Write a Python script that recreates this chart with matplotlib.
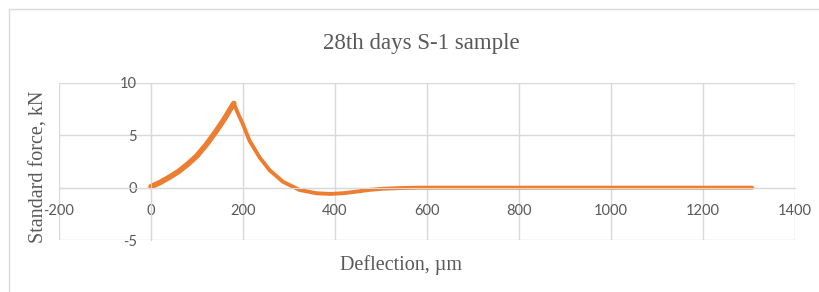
import matplotlib.pyplot as plt
from matplotlib.patches import Rectangle

plt.rcParams["axes.unicode_minus"] = False

# deflection (um) and force (kN)
load_x = [0, 20, 40, 60, 80, 100, 120, 140, 160, 175, 180]
load_y = [0.1, 0.5, 1.0, 1.55, 2.25, 3.05, 4.1, 5.3, 6.6, 7.7, 8.05]
unload_x = [180, 190, 200, 214, 236, 258, 287, 323, 359, 390, 420, 450, 473, 505,
            540, 580, 800, 1000, 1200, 1307]
unload_y = [8.05, 7.0, 6.04, 4.5, 2.9, 1.66, 0.56, -0.22, -0.53, -0.6, -0.52, -0.36,
            -0.22, -0.1, -0.04, 0.0, 0.0, 0.0, 0.0, 0.0]

x_ticks = [-200, 0, 200, 400, 600, 800, 1000, 1200, 1400]
y_ticks = [-5, 0, 5, 10]

orange = "#ED7D31"
grid_c = "#d9d9d9"
serif = ["Liberation Serif", "DejaVu Serif"]

fig = plt.figure(figsize=(8.19, 2.92), dpi=100)
ax = fig.add_axes([59 / 819, 52 / 292, 736 / 819, 157 / 292])

ax.plot(load_x, load_y, color=orange, linewidth=4.0, solid_capstyle="round",
        solid_joinstyle="round")
ax.plot(unload_x, unload_y, color=orange, linewidth=2.8, solid_capstyle="round",
        solid_joinstyle="round")

ax.set_xlim(-200, 1400)
ax.set_ylim(-5, 10)
ax.set_xticks(x_ticks)
ax.set_yticks(y_ticks)
ax.grid(True, color=grid_c, linewidth=1)
ax.set_axisbelow(True)
for gl in ax.get_xgridlines() + ax.get_ygridlines():
    gl.set_clip_on(False)

ax.spines["left"].set_position(("data", 0))
ax.spines["bottom"].set_position(("data", 0))
ax.spines["left"].set_color(grid_c)
ax.spines["bottom"].set_color(grid_c)
ax.spines["top"].set_visible(False)
ax.spines["right"].set_visible(False)
ax.tick_params(axis="both", length=0, labelcolor="#595959", labelsize=10.5)
ax.tick_params(axis="x", pad=12)
ax.tick_params(axis="y", pad=10)
for lab in ax.get_xticklabels() + ax.get_yticklabels():
    lab.set_family(["Lato", "DejaVu Sans"])

fig.text(421 / 819, 1 - 44 / 292, "28th days S-1 sample", ha="center", va="center",
         fontsize=16.5, color="#595959", family=serif)
fig.text(401 / 819, 1 - 265 / 292, "Deflection, µm", ha="center", va="center",
         fontsize=14.5, color="#595959", family=serif)
fig.text(39 / 819, 1 - 167 / 292, "Standard force, kN", ha="center", va="center",
         rotation=90, fontsize=14.5, color="#595959", family=serif)

fig.patches.append(Rectangle((8.5 / 819, -0.1), 1.0, 1 - 9.5 / 292 + 0.1,
                             transform=fig.transFigure, fill=False,
                             edgecolor=grid_c, linewidth=1))

fig.savefig("out.png", dpi=100)
